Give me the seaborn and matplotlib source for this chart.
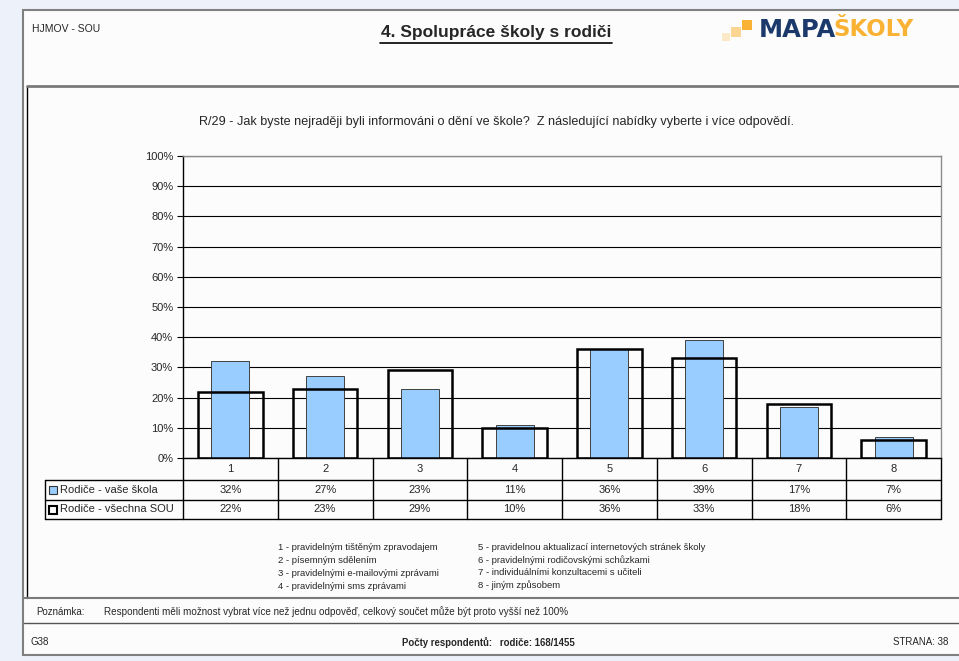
import matplotlib
matplotlib.use('Agg')
import matplotlib.pyplot as plt
import seaborn as sns
from matplotlib.patches import Rectangle
from matplotlib.lines import Line2D
from matplotlib.transforms import blended_transform_factory

# data
kategorie = ['1', '2', '3', '4', '5', '6', '7', '8']
vase_skola = [32, 27, 23, 11, 36, 39, 17, 7]
vsechna_sou = [22, 23, 29, 10, 36, 33, 18, 6]
serie = ['Rodiče - vaše škola', 'Rodiče - všechna SOU']
vysvetlivky_l = ['1 - pravidelným tištěným zpravodajem', '2 - písemným sdělením',
                 '3 - pravidelnými e-mailovými zprávami', '4 - pravidelnými sms zprávami']
vysvetlivky_p = ['5 - pravidelnou aktualizací internetových stránek školy',
                 '6 - pravidelnými rodičovskými schůzkami',
                 '7 - individuálními konzultacemi s učiteli', '8 - jiným způsobem']

sns.set_style('white')
plt.rcParams['font.family'] = ['Liberation Sans', 'DejaVu Sans']

W, H = 959, 661
fig = plt.figure(figsize=(W / 100, H / 100), dpi=100, facecolor='#edf1fa')

def fx(x):
    return x / W

def fy(y):
    return 1 - y / H

# stranka a ramecky
fig.add_artist(Rectangle((fx(23), fy(655)), fx(959) - fx(23) + 0.01, fy(10) - fy(655),
                         transform=fig.transFigure, facecolor='#fcfcfc', edgecolor='#808080',
                         lw=1.5, zorder=-10))
fig.add_artist(Line2D([fx(27), fx(27)], [fy(86), fy(598)], color='black', lw=1))
fig.add_artist(Line2D([fx(27), 1], [fy(86), fy(86)], color='#7a7a7a', lw=2))
fig.add_artist(Line2D([fx(24), 1], [fy(598), fy(598)], color='#7a7a7a', lw=1.5))
fig.add_artist(Line2D([fx(24), 1], [fy(623), fy(623)], color='#555555', lw=1))

# hlavicka
fig.text(fx(32), fy(29), 'HJMOV - SOU', fontsize=7.5, va='center', ha='left')
fig.text(fx(496), fy(33), '4. Spolupráce školy s rodiči', fontsize=12.5, fontweight='bold',
         va='center', ha='center')
fig.add_artist(Line2D([fx(380), fx(612)], [fy(43), fy(43)], color='black', lw=1.2))
for (x0, y0, s, c) in [(722, 33, 8, '#fbe9c8'), (731, 27, 10, '#fcd591'), (742, 20, 10, '#f9b233')]:
    fig.add_artist(Rectangle((fx(x0), fy(y0 + s)), s / W, s / H, transform=fig.transFigure,
                             facecolor=c, edgecolor='none'))
fig.text(fx(759), fy(30), 'MAPA', fontsize=17.5, fontweight='bold', color='#1b3a6b',
         family='DejaVu Sans', va='center', ha='left')
fig.text(fx(833), fy(30), 'ŠKOLY', fontsize=16.5, fontweight='bold', color='#f9b233',
         family='DejaVu Sans', va='center', ha='left')

fig.text(fx(497), fy(122), 'R/29 - Jak byste nejraději byli informováni o dění ve škole?  '
         'Z následující nabídky vyberte i více odpovědí.', fontsize=9.1, ha='center', va='center')

# graf
ax = fig.add_axes([fx(183), fy(458), fx(941) - fx(183), fy(156) - fy(458)])
ax.set_facecolor('none')
sns.barplot(x=kategorie, y=vase_skola, color='#99ccff', width=0.4, edgecolor='#404040',
            linewidth=0.7, saturation=1, ax=ax, zorder=3)
sns.barplot(x=kategorie, y=vsechna_sou, fill=False, color='black', width=0.68,
            linewidth=1.8, ax=ax, zorder=4)
ax.set_xlim(-0.5, 7.5)
ax.set_ylim(0, 100)
ax.set_yticks(range(0, 101, 10))
ax.set_yticklabels([f'{v}%' for v in range(0, 101, 10)], fontsize=8)
ax.tick_params(axis='y', length=4, width=0.8, pad=3, left=True, color='black')
ax.set_xticks([])
ax.grid(axis='y', color='black', lw=0.8, zorder=0)
ax.set_axisbelow(True)
for s in ['top', 'right']:
    ax.spines[s].set_color('#8c8c8c')
ax.spines['left'].set_color('black')
ax.spines['bottom'].set_color('black')
for s in ax.spines.values():
    s.set_linewidth(1)

# tabulka hodnot
tr = blended_transform_factory(ax.transData, ax.transAxes)
ah = 302.0
y_h, y_1, y_2 = -22 / ah, -42 / ah, -61 / ah
x_left = -0.5 - (183 - 45) / 758 * 8
for i in range(9):
    ax.plot([i - 0.5, i - 0.5], [0, y_2], color='black', lw=1, transform=tr, clip_on=False)
ax.plot([x_left, x_left], [y_h, y_2], color='black', lw=1, transform=tr, clip_on=False)
for yy in (y_h, y_1, y_2):
    ax.plot([x_left, 7.5], [yy, yy], color='black', lw=1, transform=tr, clip_on=False)
for i, k in enumerate(kategorie):
    ax.text(i, y_h / 2, k, transform=tr, ha='center', va='center', fontsize=8)
    ax.text(i, (y_h + y_1) / 2, f'{vase_skola[i]}%', transform=tr, ha='center', va='center', fontsize=8)
    ax.text(i, (y_1 + y_2) / 2, f'{vsechna_sou[i]}%', transform=tr, ha='center', va='center', fontsize=8)
xk = x_left + 7.5 / 758 * 8
ax.plot([xk], [(y_h + y_1) / 2], marker='s', ms=6, mfc='#99ccff', mec='#333333', mew=0.8,
        transform=tr, clip_on=False)
ax.plot([xk], [(y_1 + y_2) / 2], marker='s', ms=6, mfc='white', mec='black', mew=1.5,
        transform=tr, clip_on=False)
xl = x_left + 15 / 758 * 8
ax.text(xl, (y_h + y_1) / 2, serie[0], transform=tr, ha='left', va='center', fontsize=8)
ax.text(xl, (y_1 + y_2) / 2, serie[1], transform=tr, ha='left', va='center', fontsize=8)

# vysvetlivky
for j, s in enumerate(vysvetlivky_l):
    fig.text(fx(278), fy(548 + j * 12.7), s, fontsize=6.8, ha='left', va='center')
for j, s in enumerate(vysvetlivky_p):
    fig.text(fx(478), fy(547 + j * 12.7), s, fontsize=6.8, ha='left', va='center')

# paticka
fig.text(fx(36), fy(612), 'Poznámka:', fontsize=7, ha='left', va='center')
fig.text(fx(104), fy(612), 'Respondenti měli možnost vybrat více než jednu odpověď, celkový součet '
         'může být proto vyšší než 100%', fontsize=7.1, ha='left', va='center')
fig.text(fx(30), fy(642), 'G38', fontsize=7, ha='left', va='center')
fig.text(fx(488), fy(643), 'Počty respondentů:   rodiče: 168/1455', fontsize=6.9, fontweight='bold',
         ha='center', va='center')
fig.text(fx(948), fy(642), 'STRANA: 38', fontsize=7, ha='right', va='center')

fig.savefig('out.png', dpi=100, facecolor=fig.get_facecolor())
